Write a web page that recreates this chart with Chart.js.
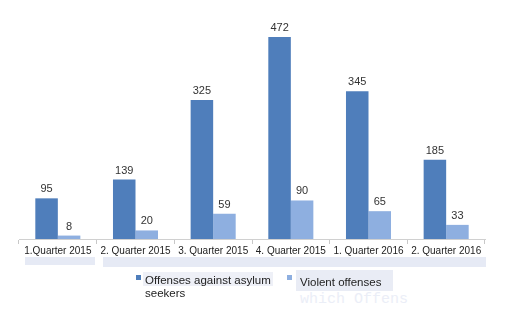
<!DOCTYPE html>
<html><head><meta charset="utf-8">
<script src="https://cdn.jsdelivr.net/npm/chart.js@4/dist/chart.umd.min.js"></script>
<style>
html,body{margin:0;padding:0;background:#fff;}
#wrap{position:relative;width:530px;height:329px;overflow:hidden;font-family:"Liberation Sans",sans-serif;}
canvas{position:absolute;left:0;top:0;}
.band{position:absolute;background:#E6EAF5;}
.leg{position:absolute;font-size:12px;color:#222;line-height:13px;white-space:normal;}
.sw{position:absolute;width:5px;height:5px;}
</style></head>
<body>
<div id="wrap">
  <div class="band" style="left:25px;top:257px;width:70px;height:8px"></div>
  <div class="band" style="left:103px;top:257px;width:383px;height:10px"></div>
  <div class="band" style="left:143px;top:272px;width:130px;height:14px;background:#EEF0F7"></div>
  <div class="band" style="left:296px;top:270px;width:97px;height:21px;background:#E9ECF5"></div>
  <div class="leg" style="left:300px;top:292px;font-family:'Liberation Mono',monospace;font-size:15px;color:#EBEEF7;line-height:16px">which Offens</div>
  <canvas id="c" width="530" height="329"></canvas>
  <div id="legend"></div>
</div>
<script>
const categories = ["1.Quarter 2015","2. Quarter 2015","3. Quarter 2015","4. Quarter 2015","1. Quarter 2016","2. Quarter 2016"];
const seriesNames = ["Offenses against asylum seekers","Violent offenses"];
const asylumOffenses = [95,139,325,472,345,185];
const violentOffenses = [8,20,59,90,65,33];
const colors = ["#4F7EBB","#8EAFE0"];

const labelPlugin = {
  id:'valueLabels',
  afterDatasetsDraw(chart){
    const ctx = chart.ctx;
    ctx.save();
    ctx.font = '11px "Liberation Sans", sans-serif';
    ctx.fillStyle = '#333';
    ctx.textAlign = 'center';
    ctx.textBaseline = 'alphabetic';
    chart.data.datasets.forEach((ds,i)=>{
      chart.getDatasetMeta(i).data.forEach((bar,j)=>{
        ctx.fillText(String(ds.data[j]), bar.x, bar.y - 6);
      });
    });
    ctx.restore();
  }
};

new Chart(document.getElementById('c'),{
  type:'bar',
  data:{
    labels:categories,
    datasets:[
      {label:seriesNames[0],data:asylumOffenses,backgroundColor:colors[0]},
      {label:seriesNames[1],data:violentOffenses,backgroundColor:colors[1]}
    ]
  },
  options:{
    responsive:false,
    animation:false,
    events:[],
    layout:{padding:{left:19,right:45,top:25,bottom:64}},
    datasets:{bar:{barPercentage:1,categoryPercentage:0.58}},
    plugins:{legend:{display:false},tooltip:{enabled:false}},
    scales:{
      x:{
        grid:{display:true,drawOnChartArea:false,color:'#C8C8C8',tickLength:5,offset:true},
        border:{display:true,color:'#D0D0D0'},
        ticks:{color:'#222',font:{family:'"Liberation Sans", sans-serif',size:10},padding:1,maxRotation:0,autoSkip:false},
        afterFit(s){s.height=26;}
      },
      y:{display:false,min:0,max:500}
    }
  },
  plugins:[labelPlugin]
});

const lg = document.getElementById('legend');
const legPos = [{sx:136,sy:275,tx:145,ty:274,w:135,fs:11.5},{sx:287,sy:275,tx:300,ty:276,w:100,fs:11.5}];
seriesNames.forEach((n,i)=>{
  const sw=document.createElement('div');sw.className='sw';
  sw.style.left=legPos[i].sx+'px';sw.style.top=legPos[i].sy+'px';sw.style.background=colors[i];
  lg.appendChild(sw);
  const t=document.createElement('div');t.className='leg';
  t.style.left=legPos[i].tx+'px';t.style.top=legPos[i].ty+'px';t.style.width=legPos[i].w+'px';
  t.style.fontSize=legPos[i].fs+'px';
  t.textContent=n;lg.appendChild(t);
});
</script>
</body></html>
